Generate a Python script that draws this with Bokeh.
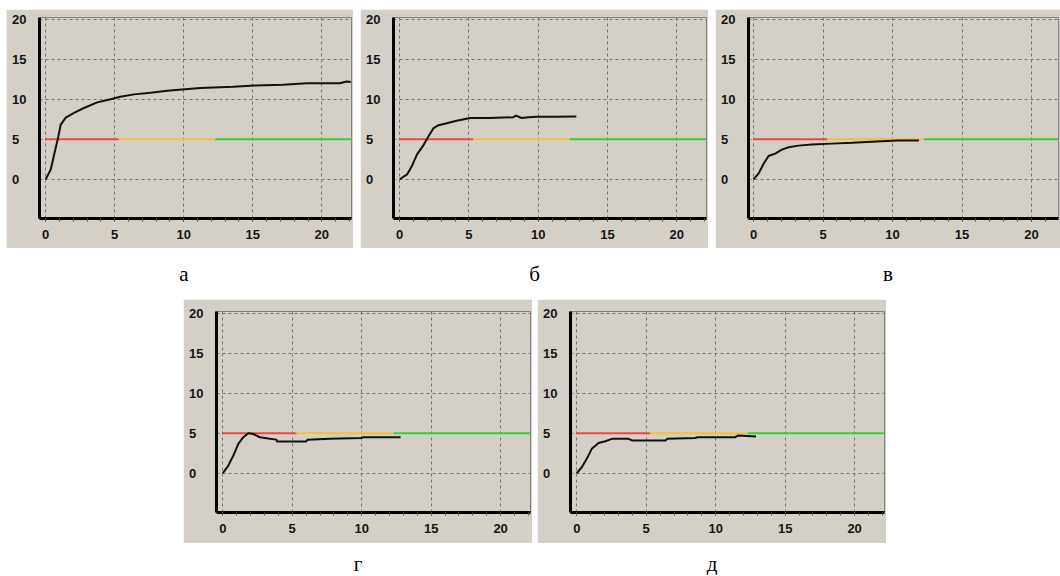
from bokeh.plotting import figure
from bokeh.models import FixedTicker, Spacer, Range1d
from bokeh.core.properties import value
from bokeh.layouts import row, column
from bokeh.embed import file_html
from bokeh.resources import INLINE

# ---------------- data ----------------
X_TICKS = [0, 5, 10, 15, 20]
X_MINOR = list(range(0, 23))
Y_TICKS = [0, 5, 10, 15, 20]

SETPOINT = 5
seg_start = [0, 5.3, 12.3]
seg_end = [5.3, 12.3, 22.3]
seg_colors = ["#f04444", "#f2c23a", "#3ccc3c"]

a_t = [0, 0.36, 0.72, 0.9, 1.08, 1.45, 2.05, 2.77, 3.73, 4.7, 5.4, 6.4, 7.6, 8.8, 10.1, 11.2, 13.6, 15.1, 17.2, 18.9, 21.3, 21.8, 22.1]
a_v = [0, 1.2, 3.9, 5.2, 6.8, 7.7, 8.3, 8.9, 9.6, 10.0, 10.3, 10.6, 10.8, 11.05, 11.25, 11.4, 11.55, 11.7, 11.8, 12.0, 12.0, 12.2, 12.15]

b_t = [0, 0.53, 0.89, 1.25, 1.73, 2.09, 2.45, 2.8, 3.4, 4.1, 5.1, 6.5, 8.2, 8.4, 8.8, 9.3, 9.9, 11.3, 12.75]
b_v = [0, 0.6, 1.7, 3.1, 4.3, 5.4, 6.4, 6.75, 7.0, 7.3, 7.65, 7.65, 7.75, 7.95, 7.65, 7.75, 7.8, 7.8, 7.85]

c_t = [0, 0.36, 0.72, 1.08, 1.56, 2.04, 2.52, 3.24, 4.2, 5.64, 7.1, 9.2, 10.4, 11.9]
c_v = [0, 0.7, 1.9, 2.9, 3.2, 3.7, 4.0, 4.2, 4.35, 4.45, 4.55, 4.75, 4.85, 4.85]

g_t = [0, 0.4, 0.76, 1.12, 1.48, 1.84, 2.2, 2.68, 3.4, 3.87, 3.9, 6.0, 6.1, 7.7, 9.96, 10.1, 11.3, 12.8]
g_v = [0, 0.96, 2.2, 3.67, 4.5, 5.0, 4.9, 4.5, 4.3, 4.2, 3.96, 3.96, 4.2, 4.3, 4.4, 4.5, 4.5, 4.5]

d_t = [0, 0.36, 0.72, 1.08, 1.57, 2.05, 2.53, 3.73, 3.98, 6.4, 6.5, 8.55, 8.67, 11.4, 11.6, 12.9]
d_v = [0, 0.75, 1.8, 3.05, 3.77, 4.0, 4.3, 4.3, 4.1, 4.1, 4.3, 4.4, 4.5, 4.5, 4.7, 4.6]

captions = ["а", "б", "в", "г", "д"]

# ---------------- style ----------------
GREY = "#d4d0c8"
TICK_FONT = "Liberation Sans"


def panel(t, v, w, h, top, bottom, xr):
    p = figure(width=w, height=h, x_range=Range1d(*xr), y_range=Range1d(-4.9, 20.2),
               title=None, output_backend="svg", toolbar_location=None,
               min_border_left=33, min_border_right=2,
               min_border_top=top, min_border_bottom=bottom)
    p.background_fill_color = GREY
    p.border_fill_color = GREY
    p.outline_line_color = "#808080"
    p.outline_line_width = 1

    for ax in (p.xaxis[0], p.yaxis[0]):
        ax.axis_line_width = 3
        ax.axis_line_color = "black"
        ax.major_label_text_font = TICK_FONT
        ax.major_label_text_font_style = "bold"
        ax.major_label_text_font_size = "13px"
        ax.major_label_text_color = "#141414"
        ax.major_tick_in = 0
        ax.minor_tick_in = 0

    xa = p.xaxis[0]
    xa.ticker = FixedTicker(ticks=X_TICKS, minor_ticks=X_MINOR)
    xa.major_tick_out = 3
    xa.minor_tick_out = 3
    xa.major_tick_line_color = "#505050"
    xa.minor_tick_line_color = "#505050"
    xa.major_label_standoff = 8

    ya = p.yaxis[0]
    ya.ticker = FixedTicker(ticks=Y_TICKS, minor_ticks=[])
    ya.major_tick_out = 0
    ya.major_tick_line_color = None
    ya.major_label_standoff = 13
    ya.major_label_overrides = {0: "0\u2007", 5: "5\u2007"}

    p.xgrid.ticker = FixedTicker(ticks=X_TICKS)
    p.ygrid.ticker = FixedTicker(ticks=Y_TICKS)
    for g in (p.xgrid[0], p.ygrid[0]):
        g.grid_line_color = "#747474"
        g.grid_line_dash = "3 3"
        g.grid_line_width = 1

    p.segment(x0=seg_start, y0=[SETPOINT] * 3, x1=seg_end, y1=[SETPOINT] * 3,
              line_color=seg_colors, line_width=2)
    p.line(t, v, line_color="#111111", line_width=2)
    return p


def caption(text, w, h, base_y, dx=0):
    p = figure(width=w, height=h, x_range=Range1d(0, w), y_range=Range1d(0, h),
               x_axis_type=None, y_axis_type=None, title=None,
               output_backend="svg", toolbar_location=None, min_border=0)
    p.grid.visible = False
    p.outline_line_color = None
    p.background_fill_color = "white"
    p.border_fill_color = "white"
    p.text(x=[w / 2 + dx], y=[base_y], text=[text], text_align="center",
           text_baseline="alphabetic", text_font=value("Liberation Serif"),
           text_font_size="21px", text_color="black")
    return p


XR = (-0.45, 22.15)
pa = panel(a_t, a_v, 347, 239, 8, 30, XR)
pb = panel(b_t, b_v, 348, 239, 8, 30, XR)
pc = panel(c_t, c_v, 345, 239, 8, 30, (-0.36, 21.94))
pg = panel(g_t, g_v, 349, 244, 12, 31, XR)
pd = panel(d_t, d_v, 349, 244, 12, 31, XR)

top_pad = Spacer(width=1060, height=9)
row1 = row(Spacer(width=6, height=239), pa, Spacer(width=7, height=239), pb,
           Spacer(width=7, height=239), pc)
cap1 = row(Spacer(width=6, height=51),
           caption(captions[0], 347, 51, 26, dx=4), Spacer(width=7, height=51),
           caption(captions[1], 348, 51, 26), Spacer(width=7, height=51),
           caption(captions[2], 345, 51, 26))
row2 = row(Spacer(width=183, height=244), pg, Spacer(width=5, height=244), pd)
cap2 = row(Spacer(width=183, height=32), caption(captions[3], 349, 32, 12),
           Spacer(width=5, height=32), caption(captions[4], 349, 32, 12))

layout = column(top_pad, row1, cap1, row2, cap2)

open("out.html", "w").write(file_html(layout, INLINE, title="Переходные процессы"))
